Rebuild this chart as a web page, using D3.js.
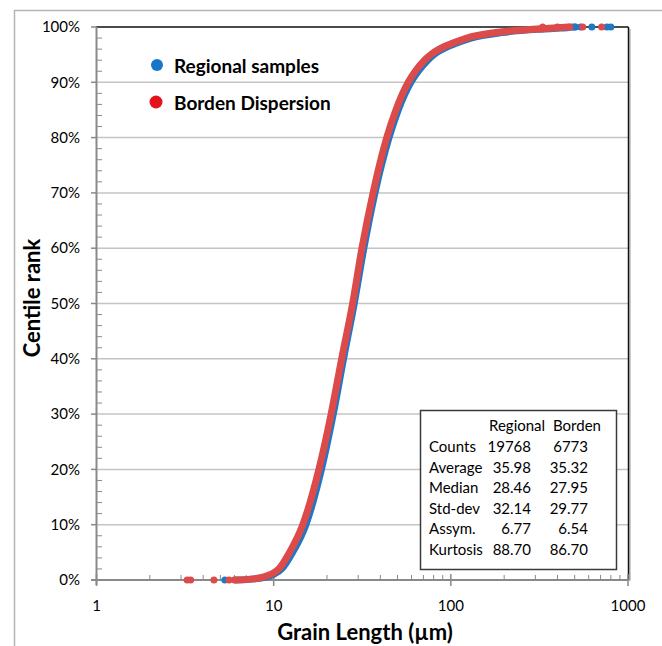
<!DOCTYPE html>
<html>
<head>
<meta charset="utf-8">
<script src="https://cdn.jsdelivr.net/npm/d3@7"></script>
<style>
  body { margin: 0; background: #fff; }
  text { font-family: Lato, "Open Sans", sans-serif; fill: #000; }
</style>
</head>
<body>
<svg id="chart" width="662" height="646"></svg>
<script>
var centiles       = [0,   0.2, 0.5, 1,    2,    5,    10,   20,   30,   40,   50,   60,   70,   80,   85,   90,   92,   94, 95, 96, 97,  98,  99,  99.6, 99.8, 100];
var regionalLength = [6.1, 7.9, 9.0, 10.0, 11.1, 12.8, 15.2, 18.6, 21.7, 24.8, 28.5, 32.3, 37.3, 44.8, 50.5, 59.5, 65.5, 74, 80, 90, 106, 130, 195, 320,  420,  500];
var bordenLength   = [6.0, 7.7, 8.7, 9.6,  10.7, 12.3, 14.6, 18.0, 21.1, 24.2, 27.9, 31.5, 36.4, 43.5, 49.0, 57.5, 63.0, 71, 77, 86, 101, 123, 180, 290,  380,  460];

// isolated grains at both ends of the curves
var regionalLow  = [5.3];
var regionalHigh = [505, 540, 625, 760, 800];
var bordenLow    = [3.25, 3.4, 4.6, 5.6];
var bordenHigh   = [330, 400, 470, 555, 710];

var xTicks = [1, 10, 100, 1000];
var yTicks = [0, 10, 20, 30, 40, 50, 60, 70, 80, 90, 100];

var statNames    = ["Counts", "Average", "Median", "Std-dev", "Assym.", "Kurtosis"];
var regionalStat = ["19768", "35.98", "28.46", "32.14", "6.77", "88.70"];
var bordenStat   = ["6773", "35.32", "27.95", "29.77", "6.54", "86.70"];

var blue = "#1f78c6";
var red = "#dc4a4a";

var svg = d3.select("#chart");

var x = d3.scaleLog().domain([1, 1000]).range([96.5, 628]);
var y = d3.scaleLinear().domain([0, 100]).range([580, 27]);

// outer chart frame
svg.append("line").attr("x1", 14.5).attr("x2", 14.5).attr("y1", 10).attr("y2", 646)
    .attr("stroke", "#b4b4b4").attr("stroke-width", 1.5);
svg.append("line").attr("x1", 14).attr("x2", 662).attr("y1", 10.5).attr("y2", 10.5)
    .attr("stroke", "#b4b4b4").attr("stroke-width", 1.5);

// horizontal gridlines
svg.selectAll(".grid")
    .data(yTicks.filter(function(d) { return d > 0 && d < 100; }))
    .enter().append("line")
        .attr("x1", 97).attr("x2", 628)
        .attr("y1", function(d) { return y(d); })
        .attr("y2", function(d) { return y(d); })
        .attr("stroke", "#c4c4c4").attr("stroke-width", 1.5);

// plot frame top / right
svg.append("line").attr("x1", 96).attr("x2", 628.5).attr("y1", y(100)).attr("y2", y(100))
    .attr("stroke", "#111").attr("stroke-width", 1.5);
svg.append("line").attr("x1", 630).attr("x2", 630).attr("y1", y(100) + 2).attr("y2", 581)
    .attr("stroke", "#bbb").attr("stroke-width", 1.5);
svg.append("line").attr("x1", 628.5).attr("x2", 628.5).attr("y1", y(100)).attr("y2", 580)
    .attr("stroke", "#111").attr("stroke-width", 1.5);

// y axis with minor ticks every 2%
var yMinor = [];
yTicks.forEach(function(t) { if (t < 100) [2, 4, 6, 8].forEach(function(k) { yMinor.push(t + k); }); });
svg.selectAll(".ymin").data(yMinor).enter().append("line")
    .attr("x1", 97).attr("x2", 102)
    .attr("y1", function(d) { return y(d); }).attr("y2", function(d) { return y(d); })
    .attr("stroke", "#898989").attr("stroke-width", 1);
svg.selectAll(".ymaj").data(yTicks).enter().append("line")
    .attr("x1", 91).attr("x2", 97)
    .attr("y1", function(d) { return y(d); }).attr("y2", function(d) { return y(d); })
    .attr("stroke", "#898989").attr("stroke-width", 1.5);
svg.append("line").attr("x1", 96.5).attr("x2", 96.5).attr("y1", y(100)).attr("y2", 585)
    .attr("stroke", "#898989").attr("stroke-width", 2);
svg.selectAll(".ylab").data(yTicks).enter().append("text")
    .attr("x", 80).attr("y", function(d) { return y(d); })
    .attr("dy", "0.35em").attr("text-anchor", "end")
    .style("font-size", "15px")
    .text(function(d) { return d + "%"; });

// x axis with minor ticks 2..9 in each decade
var xMinor = [];
xTicks.slice(0, 3).forEach(function(t) { [2, 3, 4, 5, 6, 7, 8, 9].forEach(function(k) { xMinor.push(t * k); }); });
svg.selectAll(".xmin").data(xMinor).enter().append("line")
    .attr("x1", function(d) { return x(d); }).attr("x2", function(d) { return x(d); })
    .attr("y1", 575).attr("y2", 580)
    .attr("stroke", "#898989").attr("stroke-width", 1);
svg.selectAll(".xmaj").data(xTicks).enter().append("line")
    .attr("x1", function(d) { return x(d); }).attr("x2", function(d) { return x(d); })
    .attr("y1", 574).attr("y2", 586)
    .attr("stroke", "#898989").attr("stroke-width", 1.5);
svg.append("line").attr("x1", 91).attr("x2", 628.5).attr("y1", 580).attr("y2", 580)
    .attr("stroke", "#898989").attr("stroke-width", 2);
svg.selectAll(".xlab").data(xTicks).enter().append("text")
    .attr("x", function(d) { return x(d); }).attr("y", 611)
    .attr("text-anchor", "middle")
    .style("font-size", "15px")
    .text(function(d) { return d; });

// axis titles
svg.append("text")
    .attr("transform", "translate(40,298) rotate(-90)")
    .attr("text-anchor", "middle")
    .style("font-size", "22px").style("font-weight", "bold")
    .text("Centile rank");
svg.append("text")
    .attr("x", 365).attr("y", 640)
    .attr("text-anchor", "middle")
    .style("font-size", "22px").style("font-weight", "bold")
    .text("Grain Length (\u00b5m)");

// cumulative curves
var line = d3.line()
    .x(function(d) { return x(d[0]); })
    .y(function(d) { return y(d[1]); })
    .curve(d3.curveMonotoneX);

function drawSeries(lengths, low, high, color) {
    svg.append("path")
        .datum(d3.zip(lengths, centiles))
        .attr("d", line)
        .attr("fill", "none")
        .attr("stroke", color)
        .attr("stroke-width", 7)
        .attr("stroke-linecap", "round")
        .attr("stroke-linejoin", "round");
    svg.selectAll(null)
        .data(low.map(function(v) { return [v, 0]; }).concat(high.map(function(v) { return [v, 100]; })))
        .enter().append("circle")
            .attr("cx", function(d) { return x(d[0]); })
            .attr("cy", function(d) { return y(d[1]); })
            .attr("r", 3.5)
            .attr("fill", color);
}
drawSeries(regionalLength, regionalLow, regionalHigh, blue);
drawSeries(bordenLength, bordenLow, bordenHigh, red);

// legend
svg.append("circle").attr("cx", 157).attr("cy", 65).attr("r", 6).attr("fill", "#1a76c9");
svg.append("text").attr("x", 174).attr("y", 73)
    .style("font-size", "19px").style("font-weight", "bold").text("Regional samples");
svg.append("circle").attr("cx", 156).attr("cy", 102).attr("r", 6.5).attr("fill", "#e3131b");
svg.append("text").attr("x", 174).attr("y", 110)
    .style("font-size", "19px").style("font-weight", "bold").text("Borden Dispersion");

// statistics box
svg.append("rect").attr("x", 420.5).attr("y", 410.5).attr("width", 196).attr("height", 159)
    .attr("fill", "#fff").attr("stroke", "#3a3a3a").attr("stroke-width", 1.5);
svg.append("text").attr("x", 489).attr("y", 431).style("font-size", "15px").text("Regional");
svg.append("text").attr("x", 553).attr("y", 431).style("font-size", "15px").text("Borden");
var rows = svg.selectAll(".row").data(statNames).enter().append("g")
    .attr("transform", function(d, i) { return "translate(0," + (452 + i * 20.6) + ")"; });
rows.append("text").attr("x", 429).style("font-size", "15px").text(function(d) { return d; });
rows.append("text").attr("x", 531).attr("text-anchor", "end").style("font-size", "15px")
    .text(function(d, i) { return regionalStat[i]; });
rows.append("text").attr("x", 588).attr("text-anchor", "end").style("font-size", "15px")
    .text(function(d, i) { return bordenStat[i]; });
</script>
</body>
</html>
